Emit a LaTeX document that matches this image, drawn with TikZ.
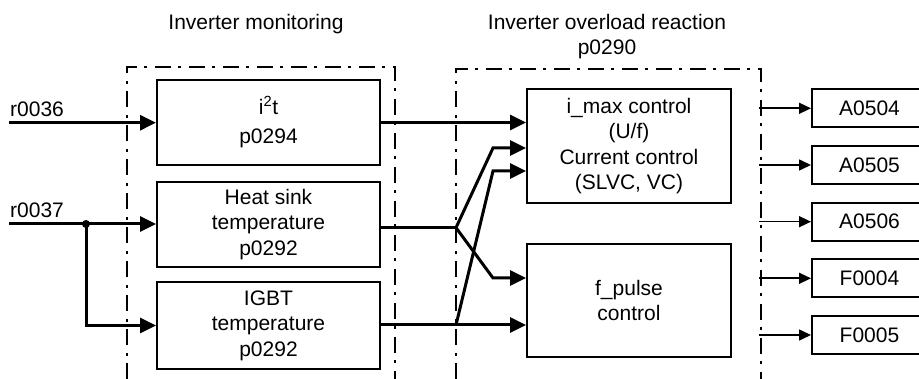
\documentclass[tikz,border=0pt]{standalone}
\usepackage{fontspec}
\setmainfont{Liberation Sans}
\usepackage{tikz}
\usetikzlibrary{arrows.meta,positioning,calc}
\tikzset{
  block/.style={draw, line width=2pt, align=center, inner sep=0pt, font=\fontsize{21}{25.5}\selectfont},
  monblock/.style={block, minimum width=223pt, minimum height=85pt},
  reactblock/.style={block, minimum width=204pt, minimum height=114pt},
  msgblock/.style={block, minimum width=115pt, minimum height=38pt},
  title/.style={align=center, inner sep=0pt, font=\fontsize{21}{25}\selectfont},
  sig/.style={anchor=base west, inner sep=0pt, font=\fontsize{21}{25}\selectfont},
  frame/.style={line width=2pt, dash pattern=on 16pt off 7pt on 3pt off 8pt},
  arrow/.style={-{Triangle[length=16pt, width=15pt]}, line width=3pt},
  line/.style={line width=3pt},
  outarrow/.style={-{Triangle[length=12pt, width=11pt]}, line width=1.6pt}
}
\begin{document}
\begin{tikzpicture}[x=1pt,y=-1pt]
  \useasboundingbox (0,0) rectangle (919,379);

  \node[title] (tmon) at (256,24.5) {Inverter monitoring};
  \node[title] (treact) at (607,37) {Inverter overload reaction\\p0290};

  \draw[frame] (127,379) -- (127,67) -- (395,67) -- (395,379);
  \draw[frame] (456,379) -- (456,69) -- (761,69) -- (761,379);

  \node[monblock] (i2t) at (268.5,122.5) {i\textsuperscript{2}t\\[4pt]p0294};
  \node[monblock] (heat) at (268.5,224.5) {Heat sink\\temperature\\p0292};
  \node[monblock, minimum height=87pt] (igbt) at (268.5,325.5) {IGBT\\temperature\\p0292};

  \node[reactblock] (imax) at (629,146) {i\_max control\\(U/f)\\Current control\\(SLVC, VC)};
  \node[reactblock, minimum height=113pt] (fpulse) at (629,300.5) {f\_pulse\\control};

  \node[msgblock] (a504) at (869.5,108.3) {A0504};
  \node[msgblock] (a505) at (869.5,165) {A0505};
  \node[msgblock] (a506) at (869.5,221.7) {A0506};
  \node[msgblock] (f004) at (869.5,278.3) {F0004};
  \node[msgblock] (f005) at (869.5,335) {F0005};

  \node[sig] (r36) at (10,116.5) {r0036};
  \node[sig] (r37) at (10,218) {r0037};

  \coordinate (in36) at (9,122.7);
  \coordinate (in37) at (9,224);
  \coordinate (split) at (86,224);
  \coordinate (jh) at (456,227.7);
  \coordinate (ji) at (456,325);
  \coordinate (bh1) at (493,148);
  \coordinate (bh2) at (493,278);
  \coordinate (bi) at (493,171);
  \coordinate (rf) at (759,0);

  % inputs
  \draw[arrow] (in36) -- (in36 -| i2t.west);
  \draw[arrow] (in37) -- (in37 -| heat.west);
  \draw[arrow] (split) |- (igbt.west);
  \fill (split) circle (4pt);

  % monitoring -> reaction
  \draw[arrow] (i2t.east) -- (i2t.east -| imax.west);
  \draw[line] (heat.east |- jh) -- (jh);
  \draw[arrow] (jh) -- (bh1) -- (bh1 -| imax.west);
  \draw[arrow] (jh) -- (bh2) -- (bh2 -| fpulse.west);
  \draw[arrow] (igbt.east |- ji) -- (ji) -- (ji -| fpulse.west);
  \draw[arrow] (ji) -- (bi) -- (bi -| imax.west);

  % messages
  \draw[outarrow] (rf |- a504) -- (a504);
  \draw[outarrow] (rf |- a505) -- (a505);
  \draw[outarrow] (rf |- a506) -- (a506);
  \draw[outarrow] (rf |- f004) -- (f004);
  \draw[outarrow] (rf |- f005) -- (f005);
\end{tikzpicture}
\end{document}
